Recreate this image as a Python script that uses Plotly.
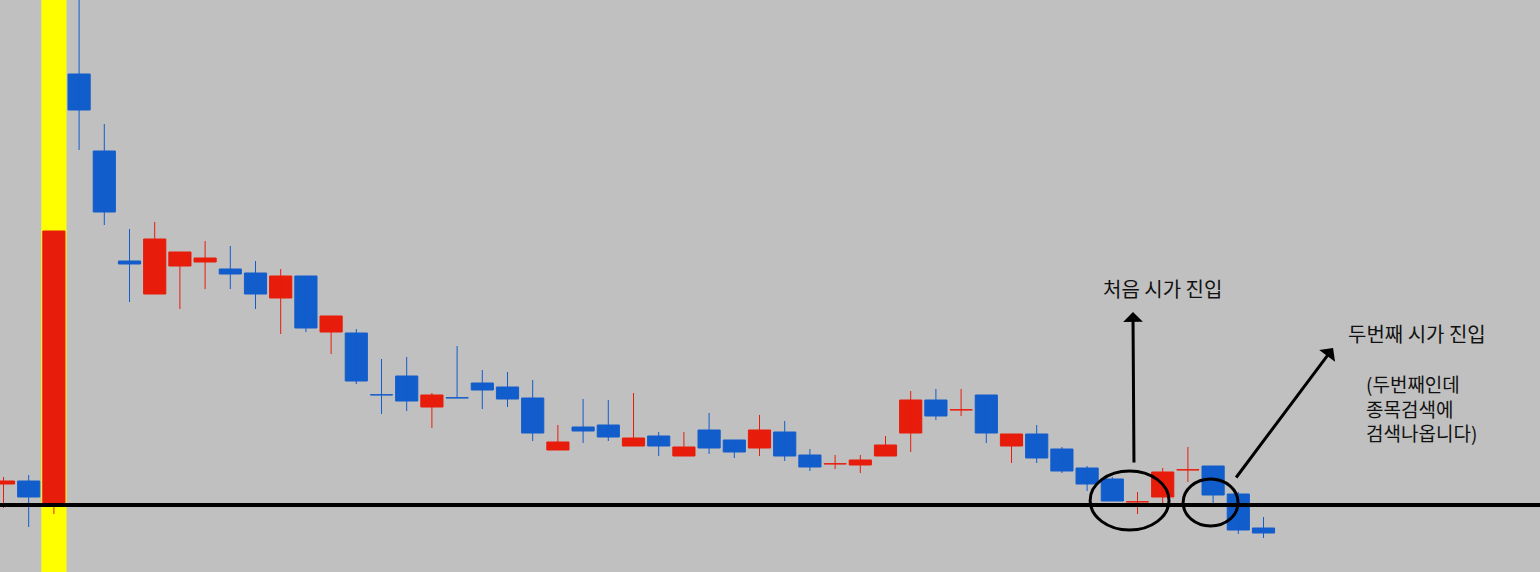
import plotly.graph_objects as go

# Candle index (position on the time axis)
idx = list(range(-2, 49))

open_ = [88, 91, 69, 498, 421, 311, 278, 306, 310, 303, 299, 274, 296, 240, 239, 177.3, 196, 165, 174.3, 189,
         185, 174, 122, 145, 147, 126, 136, 116, 142, 132, 124, 140, 117, 108, 107, 116, 139, 172, 162, 177,
         126, 138, 123, 104, 93, 70, 75, 102, 106, 78, 44]
high = [95, 97, 341, 602, 448, 343, 350, 320, 331, 326, 311, 303, 296, 256, 243, 213, 215, 179, 226, 202,
        200, 192, 147, 173, 172, 179, 140, 140, 159, 132, 157, 151, 123, 117, 117, 136, 181, 183, 183, 177,
        138, 147, 125, 106, 95, 80, 104, 125, 106, 80, 55]
low = [64, 45, 58, 422, 347, 270, 278, 263, 283, 283, 263, 238, 240, 218, 188, 158, 161, 144, 174, 163,
       165, 131, 122, 129, 131, 126, 116, 116, 118, 114, 116, 111, 101, 103, 99, 116, 120, 152, 156, 129,
       109, 109, 99, 81, 71, 58, 69, 90, 69, 38, 34]
close = [91, 75, 341, 462, 360, 308, 333, 320, 314, 298, 278, 296, 244, 256, 191, 177, 171, 177, 174, 182,
         173, 139, 130, 141, 135, 134, 126, 125, 124, 120, 142, 116, 105, 108.3, 112, 127, 172, 156, 162.3, 139,
         138, 114, 101, 88, 71, 70.3, 100, 102.3, 77, 42, 39]

support_level = 67
signal_candle = 0

label_first = "처음 시가 진입"
label_second = "두번째 시가 진입"
label_note = "(두번째인데<br>종목검색에<br>검색나옵니다)"

RED = "#E81C0A"
BLUE = "#125DCC"

fig = go.Figure()

# wicks, one trace per colour
for is_up, color in [(True, RED), (False, BLUE)]:
    wx, wy = [], []
    for i, o, h, l, c in zip(idx, open_, high, low, close):
        if (c > o) == is_up:
            wx += [i, i, None]
            wy += [l, h, None]
    fig.add_trace(go.Scatter(x=wx, y=wy, mode="lines", line=dict(color=color, width=1),
                             hoverinfo="skip", showlegend=False))

# bodies
body_base = [min(o, c) for o, c in zip(open_, close)]
body_len = [abs(c - o) for o, c in zip(open_, close)]
body_col = [RED if c > o else BLUE for o, c in zip(open_, close)]
fig.add_trace(go.Bar(x=idx, y=body_len, base=body_base, width=0.88,
                     marker=dict(color=body_col, line=dict(color=body_col, width=1)),
                     hoverinfo="skip", showlegend=False))

# yellow highlight band behind the signal candle
fig.add_shape(type="rect", xref="x", yref="paper", x0=signal_candle - 0.5, x1=signal_candle + 0.5,
              y0=0, y1=1, fillcolor="#FFFF00", line=dict(width=0), layer="below")
# horizontal support line
fig.add_shape(type="line", xref="paper", yref="y", x0=0, x1=1, y0=support_level, y1=support_level,
              line=dict(color="black", width=4))
# ellipses
fig.add_shape(type="circle", xref="x", yref="y", x0=41.12, x1=44.25, y0=42, y1=101,
              line=dict(color="black", width=3))
fig.add_shape(type="circle", xref="x", yref="y", x0=44.81, x1=46.99, y0=46, y1=93,
              line=dict(color="black", width=3))

# arrows
fig.add_annotation(x=42.82, y=260, ax=42.86, ay=108, xref="x", yref="y", axref="x", ayref="y",
                   text="", showarrow=True, arrowhead=1, arrowsize=1.1, arrowwidth=3, arrowcolor="black",
                   standoff=0, startstandoff=0)
fig.add_annotation(x=50.76, y=224, ax=46.87, ay=93, xref="x", yref="y", axref="x", ayref="y",
                   text="", showarrow=True, arrowhead=1, arrowsize=1.1, arrowwidth=3, arrowcolor="black",
                   standoff=0, startstandoff=0)

FONT_H = dict(family="Noto Sans CJK KR", size=20, color="#111111")
FONT = dict(family="Noto Sans CJK KR", size=19, color="#111111")
fig.add_annotation(x=41.54, y=284, xref="x", yref="y", text=label_first, showarrow=False,
                   xanchor="left", yanchor="middle", font=FONT_H)
fig.add_annotation(x=51.28, y=239, xref="x", yref="y", text=label_second, showarrow=False,
                   xanchor="left", yanchor="middle", font=FONT_H)
fig.add_annotation(x=52.0, y=164, xref="x", yref="y", text=label_note, showarrow=False,
                   xanchor="left", yanchor="middle", align="left", font=FONT)

fig.update_layout(
    width=1540, height=572,
    margin=dict(l=0, r=0, t=0, b=0, pad=0),
    paper_bgcolor="#C0C0C0", plot_bgcolor="#C0C0C0",
    barmode="overlay",
    xaxis=dict(range=[-2.139, 58.972], visible=False, fixedrange=True),
    yaxis=dict(range=[0, 572], visible=False, fixedrange=True),
    showlegend=False,
    hovermode=False,
)

fig.write_html("out.html", config={"displayModeBar": False, "staticPlot": True},
               post_script="document.body.style.margin='0';document.body.style.overflow='hidden';")
